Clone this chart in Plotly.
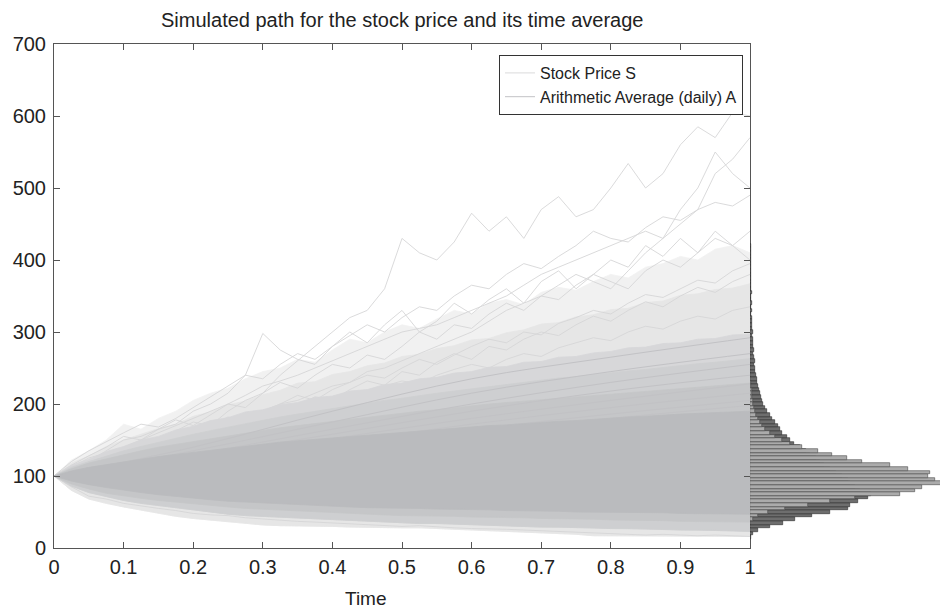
import plotly.graph_objects as go

# ---------------- data ----------------
T = [0, 0.025, 0.05, 0.075, 0.1, 0.125, 0.15, 0.175, 0.2, 0.225, 0.25,
     0.275, 0.3, 0.325, 0.35, 0.375, 0.4, 0.425, 0.45, 0.475, 0.5,
     0.525, 0.55, 0.575, 0.6, 0.625, 0.65, 0.675, 0.7, 0.725, 0.75,
     0.775, 0.8, 0.825, 0.85, 0.875, 0.9, 0.925, 0.95, 0.975, 1.0]

# envelopes of the simulated cloud (price level)
sparse_top = [100, 122, 135, 150, 172, 165, 180, 190, 205, 215, 222,
              235, 245, 250, 262, 258, 275, 290, 285, 300, 310,
              305, 318, 330, 325, 340, 345, 338, 355, 362, 358,
              370, 380, 375, 390, 395, 405, 400, 415, 420, 410]
inner_top = [100, 118, 128, 141, 150, 158, 166, 172, 183, 189, 199,
             204, 213, 219, 229, 231, 241, 245, 253, 257, 266,
             269, 277, 281, 289, 291, 299, 303, 311, 313, 321,
             324, 331, 333, 341, 343, 351, 353, 359, 361, 367]
sparse_bot = [100, 80, 68, 62, 57, 52, 48, 44, 41, 38, 36,
              34, 32, 31, 31, 30, 30, 29, 29, 28, 28,
              28, 27, 27, 26, 25, 24, 22, 21, 20, 19,
              17, 16, 16, 17, 17, 17, 17, 17, 16, 16]
dense_top = [100, 115, 123, 134, 141, 150, 155, 164, 169, 177, 181,
             189, 192, 199, 202, 209, 211, 218, 220, 227, 229,
             235, 237, 243, 245, 251, 252, 258, 259, 265, 266,
             271, 273, 278, 279, 284, 285, 290, 291, 296, 297]
dense_bot = [100, 86, 77, 71, 66, 62, 58, 55, 52, 50, 47,
             45, 44, 42, 41, 40, 39, 38, 37, 36, 35,
             34, 34, 33, 32, 32, 31, 30, 29, 29, 28,
             28, 27, 27, 26, 26, 25, 25, 24, 24, 23]
upper_top = [100, 112, 120, 128, 135, 141, 147, 153, 158, 163, 168,
             173, 177, 182, 186, 190, 194, 198, 201, 205, 208,
             212, 215, 218, 221, 225, 227, 230, 233, 236, 238,
             241, 243, 246, 248, 251, 253, 256, 258, 261, 263]
mid_top = [100, 110, 118, 124, 130, 135, 140, 144, 148, 152, 156,
           160, 163, 167, 170, 173, 176, 179, 182, 185, 187,
           190, 192, 195, 197, 200, 202, 204, 206, 208, 210,
           212, 214, 216, 218, 220, 222, 224, 226, 228, 229]
mid_bot = [100, 89, 82, 76, 72, 69, 66, 63, 61, 59, 57,
           55, 54, 52, 51, 50, 49, 48, 47, 46, 45,
           45, 44, 44, 43, 43, 42, 42, 41, 41, 40,
           40, 39, 39, 38, 38, 37, 37, 37, 36, 36]
core_top = [100, 107, 112, 116, 120, 124, 127, 130, 133, 136, 139,
            142, 144, 147, 149, 151, 153, 155, 157, 159, 161,
            163, 165, 167, 168, 170, 171, 173, 174, 176, 177,
            179, 180, 182, 183, 185, 186, 187, 188, 189, 190]
core_bot = [100, 93, 88, 84, 80, 77, 74, 71, 69, 67, 65,
            63, 62, 61, 60, 59, 58, 57, 56, 56, 55,
            55, 54, 54, 53, 53, 52, 52, 51, 51, 50,
            50, 49, 49, 49, 49, 48, 48, 48, 47, 47]

# individual extreme stock paths (same time grid)
s_paths = [
    [100, 110, 118, 125, 135, 140, 150, 162, 175, 170, 190,
     205, 215, 240, 260, 280, 300, 320, 330, 360, 430,
     410, 400, 425, 465, 440, 460, 430, 470, 488, 460,
     470, 500, 534, 500, 520, 560, 585, 570, 605, 600],
    [100, 112, 120, 135, 150, 155, 165, 172, 190, 200, 215,
     240, 298, 275, 262, 255, 280, 300, 285, 310, 330,
     300, 315, 340, 325, 345, 360, 340, 370, 385, 360,
     380, 400, 390, 420, 405, 430, 410, 440, 420, 400],
    [100, 108, 116, 122, 130, 138, 145, 150, 160, 168, 175,
     182, 190, 200, 205, 215, 225, 230, 245, 250, 260,
     270, 280, 290, 300, 315, 330, 340, 350, 365, 380,
     370, 360, 385, 410, 430, 450, 470, 520, 540, 570],
    [100, 112, 120, 130, 140, 150, 160, 170, 180, 190, 200,
     212, 225, 232, 240, 250, 260, 270, 280, 290, 300,
     305, 310, 320, 330, 340, 350, 365, 380, 390, 400,
     410, 420, 430, 440, 430, 470, 500, 550, 520, 500],
    [100, 115, 128, 140, 155, 150, 165, 178, 170, 185, 200,
     195, 215, 230, 222, 240, 255, 250, 268, 262, 280,
     300, 290, 310, 305, 325, 340, 330, 350, 345, 365,
     380, 370, 360, 385, 400, 390, 410, 430, 420, 440],
    [100, 108, 120, 115, 130, 142, 138, 150, 160, 168, 158,
     175, 185, 180, 198, 210, 205, 220, 232, 226, 245,
     240, 258, 270, 262, 280, 275, 290, 300, 295, 310,
     322, 315, 330, 342, 335, 350, 362, 355, 370, 380],
    [100, 112, 125, 132, 128, 140, 152, 160, 155, 170, 182,
     176, 190, 200, 212, 205, 220, 230, 240, 236, 250,
     262, 255, 268, 280, 290, 285, 300, 296, 312, 320,
     330, 325, 340, 352, 348, 360, 372, 368, 385, 395],
    [100, 120, 135, 148, 160, 172, 168, 180, 195, 210, 225,
     240, 235, 255, 270, 262, 280, 295, 310, 300, 320,
     335, 330, 350, 365, 360, 380, 395, 388, 405, 420,
     440, 430, 425, 445, 460, 455, 470, 480, 475, 490],
    [100, 110, 122, 130, 138, 135, 148, 155, 162, 170, 165,
     178, 185, 192, 188, 200, 210, 205, 218, 225, 232,
     228, 240, 248, 255, 250, 262, 270, 266, 278, 285,
     292, 288, 300, 308, 304, 315, 322, 318, 330, 335],
    [100, 85, 72, 68, 62, 58, 55, 52, 48, 46, 45,
     42, 40, 38, 37, 36, 35, 34, 33, 32, 30,
     31, 29, 28, 27, 27, 26, 25, 24, 23, 22,
     21, 20, 19, 18, 19, 18, 17, 18, 17, 16],
]

# smooth arithmetic-average paths
T6 = [0, 0.2, 0.4, 0.6, 0.8, 1.0]
avg_paths = [
    [100, 140, 190, 235, 265, 292],
    [100, 135, 175, 215, 245, 270],
    [100, 130, 165, 200, 230, 255],
    [100, 128, 158, 190, 218, 240],
    [100, 125, 152, 180, 205, 228],
    [100, 122, 146, 172, 195, 215],
    [100, 120, 142, 165, 186, 205],
    [100, 118, 138, 160, 180, 198],
]

# terminal distributions (histograms), bin width 5
S_bins = list(range(15, 425, 5))
S_counts = [1, 3, 8, 20, 33, 45, 62, 80, 98, 100, 108, 118, 121, 110, 105,
            100, 98, 92, 86, 80, 74, 70, 66, 60, 56, 50, 44, 40, 37, 32,
            30, 28, 25, 22, 20, 17, 15, 13, 12, 11, 10, 9, 8, 7, 7,
            6, 5, 5, 4, 5, 4, 3, 4, 3, 3, 3, 2, 3, 2, 2,
            2, 2, 1, 2, 1, 2, 1, 1, 2, 1, 1, 1, 1, 1, 1,
            1, 1, 1, 1, 1, 1, 1]
A_bins = list(range(40, 235, 5))
A_counts = [3, 8, 18, 35, 58, 80, 105, 150, 165, 172, 192, 185, 178, 180, 158,
            140, 112, 97, 82, 68, 52, 40, 32, 25, 20, 15, 12, 10, 8, 6,
            5, 4, 3, 3, 2, 2, 2, 1, 1]

x_ticks = [0, 0.1, 0.2, 0.3, 0.4, 0.5, 0.6, 0.7, 0.8, 0.9, 1]
x_ticktext = ["0", "0.1", "0.2", "0.3", "0.4", "0.5", "0.6", "0.7", "0.8", "0.9", "1"]
y_ticks = [0, 100, 200, 300, 400, 500, 600, 700]

# ---------------- figure ----------------
FONT = "Liberation Sans, Arial, Helvetica, sans-serif"
W, H = 940, 610
fig = go.Figure()


def band(top, bot, color):
    fig.add_trace(go.Scatter(
        x=T + T[::-1], y=top + bot[::-1], fill="toself", fillcolor=color,
        mode="lines", line=dict(width=0.8, color=color), hoverinfo="skip",
        showlegend=False, xaxis="x", yaxis="y"))


band(sparse_top, sparse_bot, "#f1f1f1")
band(inner_top, sparse_bot, "#e6e6e6")

for i, p in enumerate(s_paths):
    fig.add_trace(go.Scatter(
        x=T, y=p, mode="lines", line=dict(width=0.9, color="#d6d6d7"),
        name="Stock Price S", showlegend=(i == 0), hoverinfo="skip",
        xaxis="x", yaxis="y"))

band(dense_top, dense_bot, "#d7d7d9")
band(upper_top, dense_bot, "#cecfd1")
band(mid_top, mid_bot, "#c5c6c8")

for i, a in enumerate(avg_paths):
    fig.add_trace(go.Scatter(
        x=T6, y=a, mode="lines", line=dict(width=1, color="#c2c2c5", shape="spline"),
        name="Arithmetic Average (daily) A", showlegend=(i == 0), hoverinfo="skip",
        xaxis="x", yaxis="y"))

band(core_top, core_bot, "#babbbe")

# histograms on the right
fig.add_trace(go.Bar(
    y=S_bins, x=S_counts, orientation="h", width=5,
    marker=dict(color="#6e6e6e", line=dict(color="#2a2a2a", width=0.6)),
    showlegend=False, hoverinfo="skip", xaxis="x2", yaxis="y2"))
fig.add_trace(go.Bar(
    y=A_bins, x=A_counts, orientation="h", width=5,
    marker=dict(color="#ababab", line=dict(color="#4a4a4a", width=0.6)),
    showlegend=False, hoverinfo="skip", xaxis="x2", yaxis="y2"))

x0, x1 = 54 / W, 750 / W
y0, y1 = 1 - 548 / H, 1 - 44 / H
axis_common = dict(showgrid=False, zeroline=False, showline=True, linecolor="#555555",
                   linewidth=1, ticks="inside", ticklen=6, tickcolor="#555555",
                   mirror="ticks", automargin=False,
                   tickfont=dict(family=FONT, size=20, color="#222222"))

fig.update_layout(
    template="none",
    width=W, height=H,
    margin=dict(l=0, r=0, t=0, b=0, pad=0),
    paper_bgcolor="white", plot_bgcolor="white",
    barmode="overlay", bargap=0,
    font=dict(family=FONT, color="#222222"),
    xaxis=dict(domain=[x0, x1], range=[0, 1], tickvals=x_ticks, ticktext=x_ticktext,
               anchor="y", ticklabelstandoff=1, **axis_common),
    yaxis=dict(domain=[y0, y1], range=[0, 700], tickvals=y_ticks, anchor="x",
               ticklabelstandoff=3, **axis_common),
    xaxis2=dict(domain=[x1, 1.0], range=[0, 190], visible=False, anchor="y2",
                automargin=False),
    yaxis2=dict(domain=[y0, y1], range=[0, 700], visible=False, anchor="x2",
                matches="y", automargin=False),
    legend=dict(x=743 / W, xanchor="right", y=1 - 55 / H, yanchor="top",
                bgcolor="white", bordercolor="#333333", borderwidth=1,
                font=dict(family=FONT, size=16, color="#222222"),
                itemwidth=30, tracegroupgap=0),
    annotations=[
        dict(text="Simulated path for the stock price and its time average",
             x=402 / W, y=1 - 20 / H, xref="paper", yref="paper",
             xanchor="center", yanchor="middle",
             showarrow=False, font=dict(family=FONT, size=20, color="#222222")),
        dict(text="Time", x=366 / W, y=1 - 598 / H, xref="paper", yref="paper",
             xanchor="center", yanchor="middle",
             showarrow=False, font=dict(family=FONT, size=19, color="#222222")),
    ],
)

fig.write_html("out.html")
